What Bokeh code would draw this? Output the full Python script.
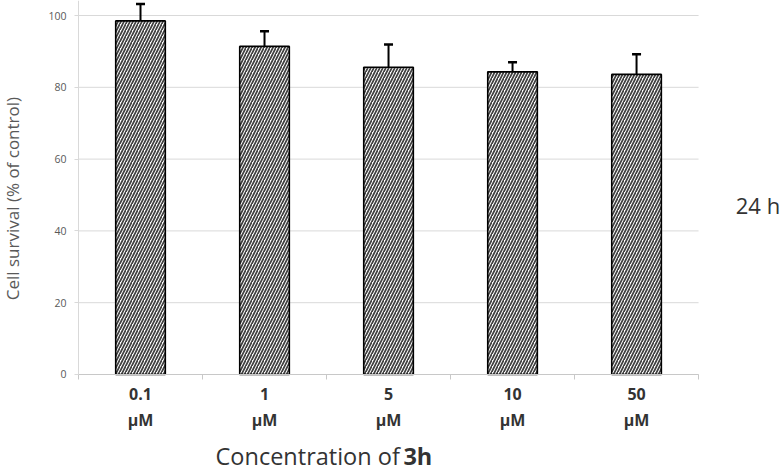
import math
from bokeh.plotting import figure
from bokeh.models import (ColumnDataSource, FixedTicker, Whisker, TeeHead, Label, Range1d)
from bokeh.embed import file_html
from bokeh.resources import INLINE

categories = ["0.1\nμM", "1\nμM", "5\nμM", "10\nμM", "50\nμM"]
survival = [98.5, 91.4, 85.6, 84.3, 83.6]
sd = [4.7, 4.2, 6.3, 2.7, 5.6]
y_ticks = [0, 20, 40, 60, 80, 100]

xs = list(range(1, len(categories) + 1))
upper = [m + e for m, e in zip(survival, sd)]
src = ColumnDataSource(dict(x=xs, top=survival, upper=upper))

FONT = "Open Sans"
n = len(categories)

# whole canvas is the frame; axes are pinned inside it
p = figure(width=783, height=472, output_backend="svg", toolbar_location=None,
           x_range=Range1d(-0.129, 6.185), y_range=Range1d(-27.3, 104.18),
           min_border=0)
p.outline_line_color = None
p.background_fill_color = "white"
p.border_fill_color = "white"

# horizontal gridlines limited to the plot area
p.segment(x0=[0.5] * len(y_ticks), x1=[n + 0.5] * len(y_ticks), y0=y_ticks, y1=y_ticks,
          line_color="#d9d9d9", line_width=1, level="underlay")

p.vbar(x="x", top="top", width=0.4, source=src, fill_color="white",
       hatch_pattern="/", hatch_scale=6, hatch_weight=1.7, hatch_color="#404040",
       line_color="black", line_width=1.6)

w = Whisker(base="x", lower="top", upper="upper", source=src, line_color="black", line_width=2,
            upper_head=TeeHead(size=9, line_color="black", line_width=2.5), lower_head=None)
p.add_layout(w)

p.xgrid.grid_line_color = None
p.ygrid.grid_line_color = None

# y axis
yax = p.yaxis[0]
yax.fixed_location = 0.5
yax.bounds = (0, 104.18)
yax.ticker = FixedTicker(ticks=y_ticks)
yax.axis_line_color = "#d9d9d9"
yax.major_tick_line_color = "#d9d9d9"
yax.major_tick_out = 4
yax.major_tick_in = 0
yax.minor_tick_line_color = None
yax.major_label_text_font = FONT
yax.major_label_text_font_size = "10.5px"
yax.major_label_text_color = "#595959"
yax.major_label_standoff = 8

# x axis
xax = p.xaxis[0]
xax.fixed_location = 0
xax.bounds = (0.5, n + 0.5)
bounds = [i + 0.5 for i in range(0, n + 1)]
xax.ticker = FixedTicker(ticks=xs, minor_ticks=bounds)
xax.major_label_overrides = {x: c for x, c in zip(xs, categories)}
xax.axis_line_color = "#c8c8c8"
xax.major_tick_line_color = None
xax.minor_tick_line_color = "#c8c8c8"
xax.minor_tick_out = 5
xax.minor_tick_in = 0
xax.major_label_text_font = FONT
xax.major_label_text_font_style = "bold"
xax.major_label_text_font_size = "16px"
xax.major_label_text_color = "#333333"
xax.major_label_text_line_height = 1.15
xax.major_label_standoff = 3

# titles
p.add_layout(Label(x=-0.03, y=49.0, text="Cell survival (% of control)", text_font=FONT,
                   text_font_size="17px", text_color="#595959", text_baseline="middle",
                   text_align="center", angle=math.pi / 2))
p.add_layout(Label(x=1.605, y=-22.6, text="Concentration of", text_font=FONT,
                   text_font_size="23.5px", text_color="#333333", text_baseline="middle",
                   text_align="left"))
p.add_layout(Label(x=3.12, y=-22.6, text="3h", text_font=FONT, text_font_style="bold",
                   text_font_size="23.5px", text_color="#333333", text_baseline="middle",
                   text_align="left"))
p.add_layout(Label(x=5.8, y=47.1, text="24 h", text_font=FONT,
                   text_font_size="22px", text_color="#333333", text_baseline="middle",
                   text_align="left"))

open("out.html", "w").write(file_html(p, INLINE))
